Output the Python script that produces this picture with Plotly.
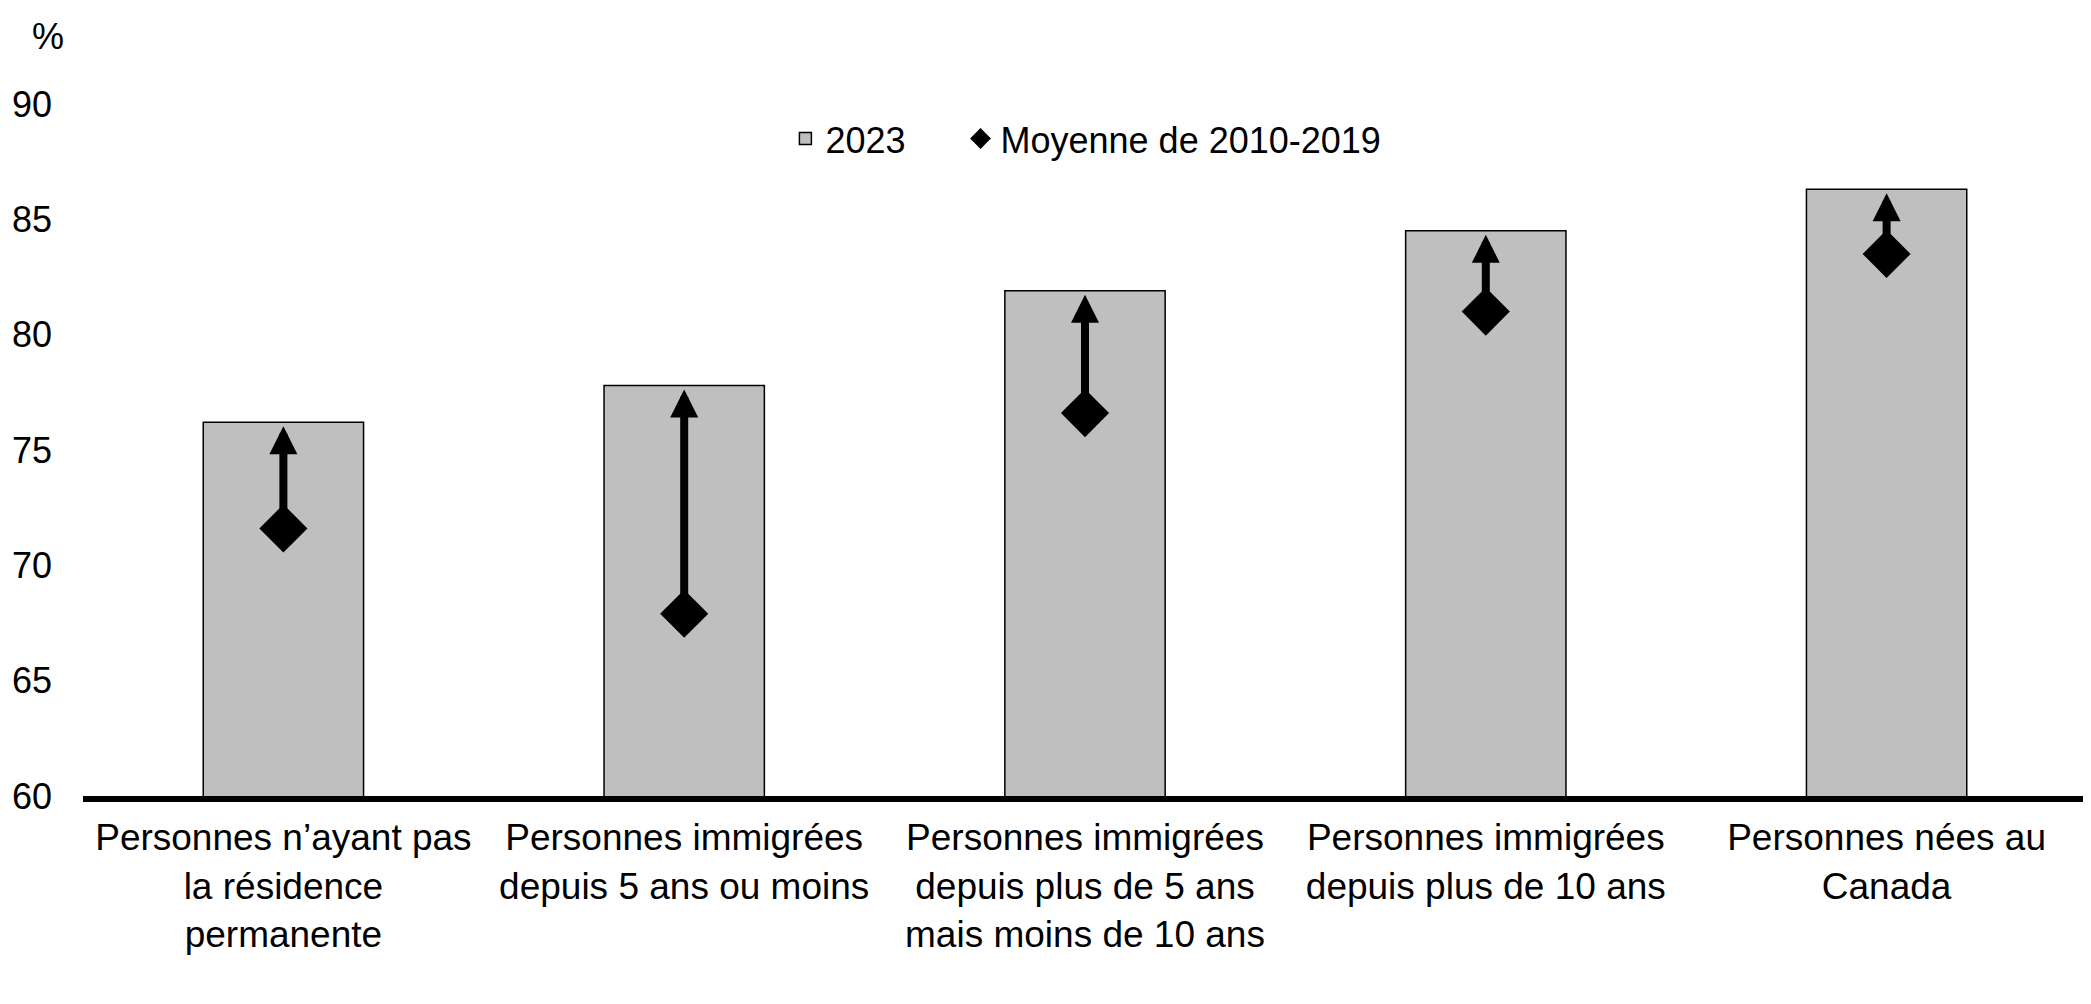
import plotly.graph_objects as go

# taux d'emploi, %
categories = [
    "Personnes n’ayant pas<br>la résidence<br>permanente",
    "Personnes immigrées<br>depuis 5 ans ou moins",
    "Personnes immigrées<br>depuis plus de 5 ans<br>mais moins de 10 ans",
    "Personnes immigrées<br>depuis plus de 10 ans",
    "Personnes nées au<br>Canada",
]
values_2023 = [76.2, 77.8, 81.9, 84.5, 86.3]
avg_2010_2019 = [71.6, 67.9, 76.6, 81.0, 83.5]
y_ticks = [60, 65, 70, 75, 80, 85, 90]

FONT = "Liberation Sans, Arial, sans-serif"

fig = go.Figure()

fig.add_trace(go.Bar(
    x=categories,
    y=values_2023,
    name="2023" + "\u00a0" * 5,  # extra room before the next legend item
    width=0.4,
    marker=dict(color="#BFBFBF", line=dict(color="black", width=1.5)),
))

fig.add_trace(go.Scatter(
    x=categories,
    y=avg_2010_2019,
    name="Moyenne de 2010-2019",
    mode="markers",
    marker=dict(symbol="diamond", size=37, color="black"),
))

# flèches de la moyenne vers 2023
for cat, start, end in zip(categories, avg_2010_2019, values_2023):
    fig.add_annotation(
        x=cat, y=end, ax=cat, ay=start,
        xref="x", yref="y", axref="x", ayref="y",
        text="", showarrow=True,
        arrowhead=2, arrowsize=0.7, arrowwidth=8, arrowcolor="black",
        standoff=4,
    )

fig.add_annotation(
    x=-0.0177, y=(796 - 37) / 692, xref="paper", yref="paper",
    xanchor="center", yanchor="middle",
    text="%", showarrow=False,
    font=dict(size=36, color="black", family=FONT),
)

# the page body has an 8px margin, margins below account for it
fig.update_layout(
    width=2083,
    height=996,
    margin=dict(l=72, r=4, t=96, b=208),
    plot_bgcolor="white",
    paper_bgcolor="white",
    font=dict(family=FONT, size=36, color="black"),
    showlegend=True,
    legend=dict(
        orientation="h",
        x=0.3505, xanchor="left",
        y=0.95, yanchor="middle",
        bgcolor="rgba(0,0,0,0)",
        font=dict(size=36),
        traceorder="normal",
    ),
)

fig.update_xaxes(
    showline=True, linecolor="black", linewidth=6,
    showgrid=False, ticks="", tickfont=dict(size=37),
    ticklabelstandoff=4,
)
fig.update_yaxes(
    range=[60, 90],
    tickvals=y_ticks,
    showgrid=False, zeroline=False, showline=False,
    ticks="", ticklabelstandoff=30,
    tickfont=dict(size=36),
)

fig.write_html("out.html")
